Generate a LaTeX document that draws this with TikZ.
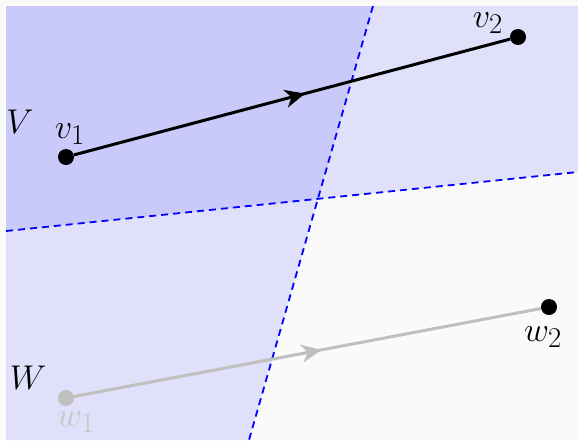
\documentclass[tikz,border=0pt]{standalone}
\usetikzlibrary{decorations.markings,arrows.meta}
\begin{document}
\begin{tikzpicture}[x=1pt,y=-1pt,
  dot/.style={circle,fill=#1,inner sep=0pt,minimum size=16pt},
  lbl/.style={inner sep=0pt,font=\Huge,scale=1.38,transform shape},
  halfplane/.style={fill=blue,fill opacity=0.1},
  bound/.style={blue,line width=1.8pt,dash pattern=on 7pt off 5pt},
  vec/.style={line width=3pt,postaction={decorate},decoration={markings,
     mark=at position 0.53 with {\arrow{Stealth[length=20pt,width=18pt,inset=6pt]}}}}]
\fill[black!2] (0,0) rectangle (578,440);
\useasboundingbox (0,0) rectangle (578,440);
\begin{scope}
\clip (6,6) rectangle (578,440);
\fill[halfplane] (6,6) -- (578,6) -- (578,172) -- (6,231) -- cycle;
\fill[halfplane] (6,6) -- (373,6) -- (249,440) -- (6,440) -- cycle;
\coordinate (h1) at (6,231);
\coordinate (h2) at (578,172);
\coordinate (s1) at (373,6);
\coordinate (s2) at (249,440);
\draw[bound] (h1) -- (h2);
\draw[bound] (s1) -- (s2);
\end{scope}
\node[dot=black] (v1) at (66,157) {};
\node[dot=black] (v2) at (518,37) {};
\node[dot=gray!50] (w1) at (66,398) {};
\node[dot=black] (w2) at (549,307) {};
\draw[vec,black] (v1) -- (v2);
\draw[vec,gray!50] (w1) -- (w2);
\node[lbl] (V) at (20,122) {$V$};
\node[lbl] (W) at (28,378) {$W$};
\node[lbl] (lv1) at (70,134) {$v_1$};
\node[lbl] (lv2) at (488,23) {$v_2$};
\node[lbl] (lw2) at (543,337) {$w_2$};
\node[lbl,text=gray!45] (lw1) at (76,422) {$w_1$};
\end{tikzpicture}
\end{document}
